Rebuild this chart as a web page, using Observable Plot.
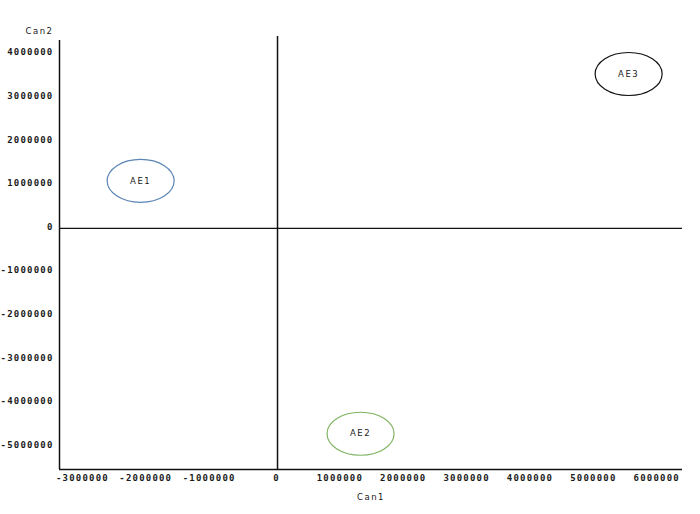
<!DOCTYPE html>
<html>
<head>
<meta charset="utf-8">
<script src="https://cdn.jsdelivr.net/npm/d3@7"></script>
<script src="https://cdn.jsdelivr.net/npm/@observablehq/plot@0.6"></script>
<style>
  html, body { margin: 0; padding: 0; background: #fff; }
  svg { display: block; }
</style>
</head>
<body>
<div id="chart"></div>
<script>
const groups = ["AE1", "AE2", "AE3"];
const can1 = [-2160000, 1310000, 5540000];
const can2 = [1090000, -4710000, 3540000];
const colors = ["#5b85b5", "#7fb462", "#111111"];
const xTicks = [-3000000, -2000000, -1000000, 0, 1000000, 2000000, 3000000, 4000000, 5000000, 6000000];
const yTicks = [-5000000, -4000000, -3000000, -2000000, -1000000, 0, 1000000, 2000000, 3000000, 4000000];

const data = groups.map((g, i) => ({group: g, x: can1[i], y: can2[i], color: colors[i]}));

const xDomain = [-3440000, 6390000];
const yDomain = [-5530000, 4400000];

// ellipse symbol (wider than tall)
const ellipse = {
  draw(ctx, size) {
    const r = Math.sqrt(size / Math.PI);
    const rx = r, ry = r * 43 / 67;
    const k = 0.5523;
    ctx.moveTo(rx, 0);
    ctx.bezierCurveTo(rx, k * ry, k * rx, ry, 0, ry);
    ctx.bezierCurveTo(-k * rx, ry, -rx, k * ry, -rx, 0);
    ctx.bezierCurveTo(-rx, -k * ry, -k * rx, -ry, 0, -ry);
    ctx.bezierCurveTo(k * rx, -ry, rx, -k * ry, rx, 0);
    ctx.closePath();
  }
};

const tickFont = {fontFamily: "DejaVu Sans Mono", fontWeight: "bold", fontSize: 9, fill: "#1a1a1a"};
const fmt = d => String(d);

const chart = Plot.plot({
  width: 700,
  height: 514,
  marginLeft: 59,
  marginRight: 18,
  marginTop: 36,
  marginBottom: 45,
  style: {background: "#fff", color: "#222"},
  x: {domain: xDomain, label: null},
  y: {domain: yDomain, label: null},
  marks: [
    Plot.axisX({ticks: xTicks.filter(d => d < 0), tickSize: 0, tickPadding: 5, tickFormat: fmt, dx: -5, ...tickFont, className: "xt"}),
    Plot.axisX({ticks: xTicks.filter(d => d >= 0), tickSize: 0, tickPadding: 5, tickFormat: fmt, dx: -1, ...tickFont, className: "xt"}),
    Plot.axisY({ticks: yTicks, tickSize: 0, tickPadding: 6, tickFormat: fmt, dy: -1.5, ...tickFont, className: "yt"}),
    Plot.ruleY([yDomain[0]], {stroke: "#111", strokeWidth: 1.5}),
    Plot.ruleX([xDomain[0]], {y1: yDomain[0], y2: 4310000, stroke: "#111", strokeWidth: 1.5}),
    Plot.ruleY([0], {stroke: "#111", strokeWidth: 1.2}),
    Plot.ruleX([0], {stroke: "#111", strokeWidth: 1.5}),
    Plot.dot(data, {x: "x", y: "y", r: 33.5, symbol: ellipse, stroke: "color", strokeWidth: 1.2, fill: "none"}),
    Plot.text(data, {x: "x", y: "y", text: "group", fontFamily: "DejaVu Sans", fontSize: 8.5, fill: "#1a1a1a", className: "lbl"}),
    Plot.text(["Can2"], {frameAnchor: "top-left", textAnchor: "end", dx: -6, dy: -9, fontFamily: "DejaVu Sans", fontSize: 8.5, fill: "#1a1a1a", className: "lbl"}),
    Plot.text(["Can1"], {frameAnchor: "bottom", dy: 30, fontFamily: "DejaVu Sans", fontSize: 8.5, fill: "#1a1a1a", className: "lbl"})
  ]
});

const style = document.createElement("style");
style.textContent = `
  .xt text, .yt text { letter-spacing: 1.2px; }
  .lbl text { letter-spacing: 1.5px; }
`;
document.head.appendChild(style);
document.getElementById("chart").appendChild(chart);
</script>
</body>
</html>
